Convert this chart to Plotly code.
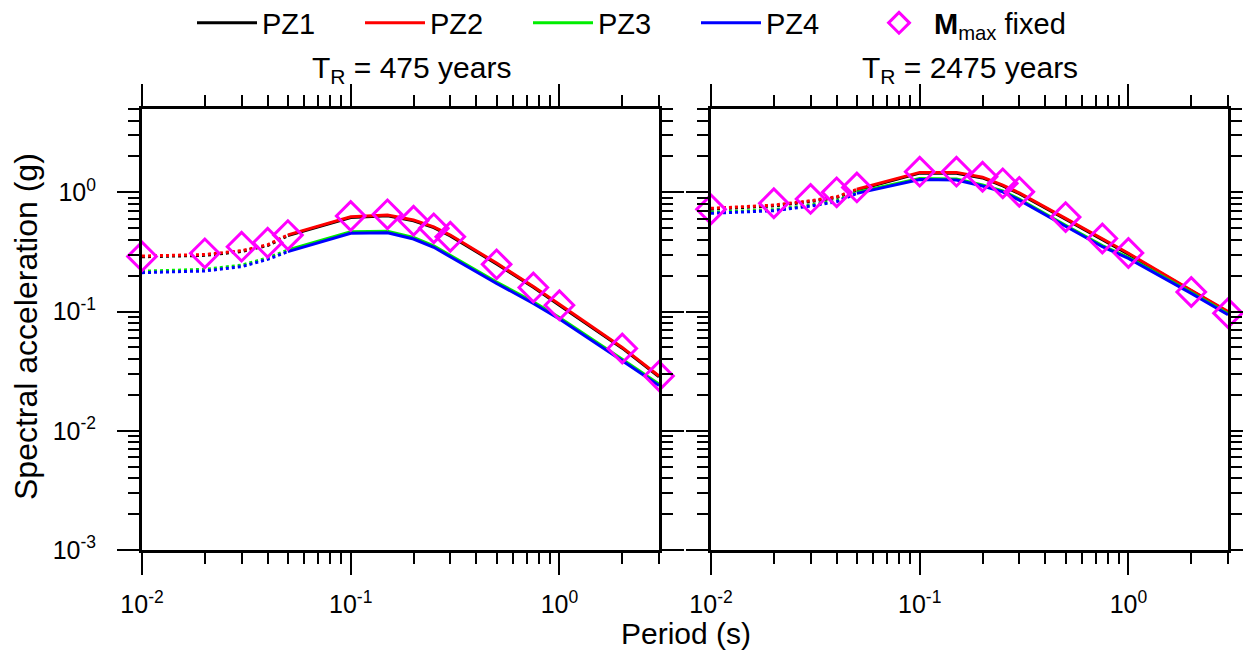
import numpy as np
import plotly.graph_objects as go

# ---------------- data ----------------
periods = [0.01, 0.02, 0.03, 0.04, 0.05, 0.1, 0.15, 0.2, 0.25, 0.3, 0.5, 0.75, 1.0, 2.0, 3.0]

# T_R = 475 years
pz1_475 = [0.288, 0.296, 0.319, 0.358, 0.433, 0.615, 0.635, 0.577, 0.506, 0.431, 0.251, 0.160, 0.113, 0.0493, 0.0284]
pz2_475 = [0.292, 0.301, 0.324, 0.363, 0.440, 0.624, 0.645, 0.586, 0.514, 0.438, 0.255, 0.162, 0.115, 0.0500, 0.0288]
pz3_475 = [0.218, 0.226, 0.245, 0.282, 0.328, 0.467, 0.472, 0.418, 0.356, 0.297, 0.177, 0.121, 0.0890, 0.0399, 0.0247]
pz4_475 = [0.212, 0.219, 0.238, 0.274, 0.318, 0.453, 0.458, 0.406, 0.346, 0.288, 0.172, 0.117, 0.0865, 0.0387, 0.0240]
mmax_475 = [0.290, 0.308, 0.350, 0.378, 0.438, 0.633, 0.654, 0.578, 0.499, 0.424, 0.249, 0.159, 0.113, 0.0490, 0.0288]

# T_R = 2475 years
pz1_2475 = [0.723, 0.770, 0.837, 0.904, 1.044, 1.448, 1.448, 1.32, 1.133, 0.975, 0.596, 0.405, 0.303, 0.149, 0.0985]
pz2_2475 = [0.734, 0.782, 0.850, 0.918, 1.06, 1.47, 1.47, 1.34, 1.15, 0.990, 0.605, 0.411, 0.308, 0.151, 0.100]
pz3_2475 = [0.680, 0.715, 0.782, 0.850, 1.00, 1.305, 1.295, 1.153, 1.03, 0.877, 0.530, 0.357, 0.285, 0.145, 0.096]
pz4_2475 = [0.667, 0.701, 0.767, 0.834, 0.98, 1.28, 1.27, 1.13, 1.01, 0.860, 0.520, 0.350, 0.279, 0.142, 0.094]
mmax_2475 = [0.720, 0.810, 0.880, 1.00, 1.10, 1.49, 1.49, 1.35, 1.19, 1.01, 0.620, 0.410, 0.310, 0.146, 0.097]

series_names = ["PZ1", "PZ2", "PZ3", "PZ4"]
series_colors = ["#000000", "#ff0000", "#00ee00", "#0000ff"]
panel_titles = ["T<sub>R</sub> = 475 years", "T<sub>R</sub> = 2475 years"]

x_major = [0.01, 0.1, 1.0]
x_major_text = ["10<sup>-2</sup>", "10<sup>-1</sup>", "10<sup>0</sup>"]
y_major = [0.001, 0.01, 0.1, 1.0]
y_major_text = ["10<sup>-3</sup>", "10<sup>-2</sup>", "10<sup>-1</sup>", "10<sup>0</sup>"]

# dotted up to 0.05 s, solid from 0.05 s
split = 4

FONT = "Liberation Sans, Arial, sans-serif"

panels = [
    ([pz1_475, pz2_475, pz3_475, pz4_475], mmax_475),
    ([pz1_2475, pz2_2475, pz3_2475, pz4_2475], mmax_2475),
]

fig = go.Figure()

for pi, (curves, mmax) in enumerate(panels):
    xa = "x" if pi == 0 else "x2"
    ya = "y" if pi == 0 else "y2"
    for si, (name, col, vals) in enumerate(zip(series_names, series_colors, curves)):
        fig.add_trace(go.Scatter(
            x=periods[:split + 1], y=vals[:split + 1], mode="lines",
            line=dict(color=col, width=3, dash="dot"),
            name=name, legendgroup=name, showlegend=False,
            xaxis=xa, yaxis=ya, hoverinfo="skip"))
        fig.add_trace(go.Scatter(
            x=periods[split:], y=vals[split:], mode="lines",
            line=dict(color=col, width=3),
            name=name, legendgroup=name, showlegend=(pi == 0),
            legendrank=si + 1, legendwidth=93, xaxis=xa, yaxis=ya))
    fig.add_trace(go.Scatter(
        x=periods, y=mmax, mode="markers", cliponaxis=False,
        marker=dict(symbol="diamond-open", size=22, color="#ff00ff",
                    line=dict(color="#ff00ff", width=3)),
        name="<b>M</b><sub>max</sub> fixed", legendgroup="mmax",
        showlegend=(pi == 0), legendrank=5, legendwidth=170, xaxis=xa, yaxis=ya))

x_minor = [m * 10.0 ** e for e in (-2, -1) for m in range(2, 10)] + [2.0, 3.0]
y_minor = [m * 10.0 ** e for e in (-3, -2, -1) for m in range(2, 10)] + [2.0, 3.0, 4.0, 5.0]

W, H = 1251, 651
# page has an 8px body margin; target plot area in screenshot: x 142..1228, y 109..550
L, R, T, B = 134, 31, 101, 109
pw = W - L - R
ph = H - T - B


def px_x(sx):
    return (sx - 142) / pw


def px_y(sy):
    return (550 - sy) / ph


left_dom = [0, px_x(659)]
right_dom = [px_x(711), 1]


def xaxis_cfg(dom, anchor):
    return dict(type="log", range=[-2, np.log10(3.0)], domain=dom, anchor=anchor,
                showline=True, linecolor="black", linewidth=3, mirror="ticks",
                ticks="outside", ticklen=22, tickwidth=2, tickcolor="black",
                tickmode="array", tickvals=x_major, ticktext=x_major_text,
                tickfont=dict(size=25, color="black", family=FONT),
                ticklabelstandoff=8,
                showgrid=False, zeroline=False,
                minor=dict(tickmode="array", tickvals=x_minor, ticks="outside",
                           ticklen=11, tickwidth=2, tickcolor="black", showgrid=False))


def yaxis_cfg(anchor, labels):
    return dict(type="log", range=[-3, np.log10(5.0)], domain=[0, 1], anchor=anchor,
                showline=True, linecolor="black", linewidth=3, mirror="ticks",
                ticks="outside", ticklen=22, tickwidth=2, tickcolor="black",
                tickmode="array", tickvals=y_major,
                ticktext=y_major_text if labels else ["", "", "", ""],
                showticklabels=labels,
                tickfont=dict(size=25, color="black", family=FONT),
                ticklabelstandoff=16,
                showgrid=False, zeroline=False,
                minor=dict(tickmode="array", tickvals=y_minor, ticks="outside",
                           ticklen=11, tickwidth=2, tickcolor="black", showgrid=False))


fig.update_layout(
    width=W, height=H,
    margin=dict(l=L, r=R, t=T, b=B, autoexpand=False),
    paper_bgcolor="white", plot_bgcolor="white",
    font=dict(family=FONT, size=29, color="black"),
    xaxis=xaxis_cfg(left_dom, "y"),
    yaxis=yaxis_cfg("x", True),
    xaxis2=xaxis_cfg(right_dom, "y2"),
    yaxis2=yaxis_cfg("x2", False),
    legend=dict(orientation="h", x=px_x(192), xanchor="left",
                y=px_y(23), yanchor="middle",
                font=dict(size=29, family=FONT), bgcolor="rgba(0,0,0,0)",
                itemwidth=60, tracegroupgap=0),
    showlegend=True,
)

for cx, t in zip([411, 970], panel_titles):
    fig.add_annotation(text=t, x=px_x(cx), xref="paper", y=px_y(70), yref="paper",
                       xanchor="center", yanchor="middle", showarrow=False,
                       font=dict(size=30, family=FONT, color="black"))

fig.add_annotation(text="Period (s)", x=px_x(686), xref="paper",
                   y=px_y(633), yref="paper", xanchor="center", yanchor="middle",
                   showarrow=False, font=dict(size=30, family=FONT, color="black"))
fig.add_annotation(text="Spectral acceleration (g)", x=px_x(26), xref="paper",
                   y=px_y(327), yref="paper", xanchor="center", yanchor="middle", textangle=-90,
                   showarrow=False, font=dict(size=32, family=FONT, color="black"))

fig.write_html("out.html")
